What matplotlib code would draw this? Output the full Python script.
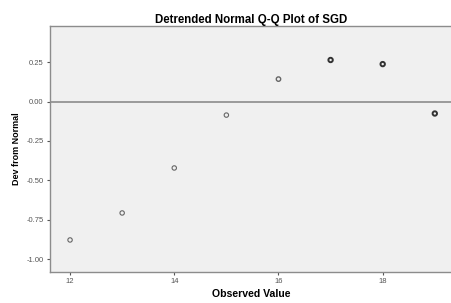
import matplotlib
matplotlib.use("Agg")
import matplotlib.pyplot as plt

observed = [12, 13, 14, 15, 16, 17, 18, 19]
dev_from_normal = [-0.877, -0.706, -0.421, -0.086, 0.142, 0.263, 0.237, -0.076]
edge_widths = [0.8, 0.8, 0.8, 0.8, 1.0, 1.4, 1.4, 1.4]

x_ticks = [12, 14, 16, 18]
y_ticks = [-1.00, -0.75, -0.50, -0.25, 0.00, 0.25]

plt.rcParams['font.family'] = ['Liberation Sans', 'DejaVu Sans']

fig = plt.figure(figsize=(4.52, 3.03), dpi=100)
ax = fig.add_axes([0.1106, 0.1023, 0.8894, 0.8117])
ax.set_facecolor('#f0f0f0')

ax.axhline(0, color='#8c8c8c', linewidth=1.2, zorder=1)
for x, y, lw in zip(observed, dev_from_normal, edge_widths):
    ax.scatter(x, y, s=10, facecolors='none', edgecolors='#333333' if lw > 1 else '#666666',
               linewidths=lw, zorder=3)

ax.set_xlim(11.615, 19.33)
ax.set_ylim(-1.08, 0.478)
ax.set_xticks(x_ticks)
ax.set_yticks(y_ticks)
ax.set_xticklabels([str(t) for t in x_ticks])
ax.set_yticklabels([f"{t:.2f}" for t in y_ticks])
ax.tick_params(labelsize=5.5, colors='#555555', length=2.5, width=0.8, pad=2)

for side in ['left', 'bottom', 'top']:
    ax.spines[side].set_color('#8c8c8c')
    ax.spines[side].set_linewidth(1.0)
ax.spines['right'].set_visible(False)

ax.set_title("Detrended Normal Q-Q Plot of SGD", fontsize=8.3, fontweight='bold', pad=2)
ax.set_xlabel("Observed Value", fontsize=7.6, fontweight='bold', labelpad=3)
ax.set_ylabel("Dev from Normal", fontsize=6.5, fontweight='bold', labelpad=4)

fig.savefig("out.png", dpi=100, facecolor='white')
